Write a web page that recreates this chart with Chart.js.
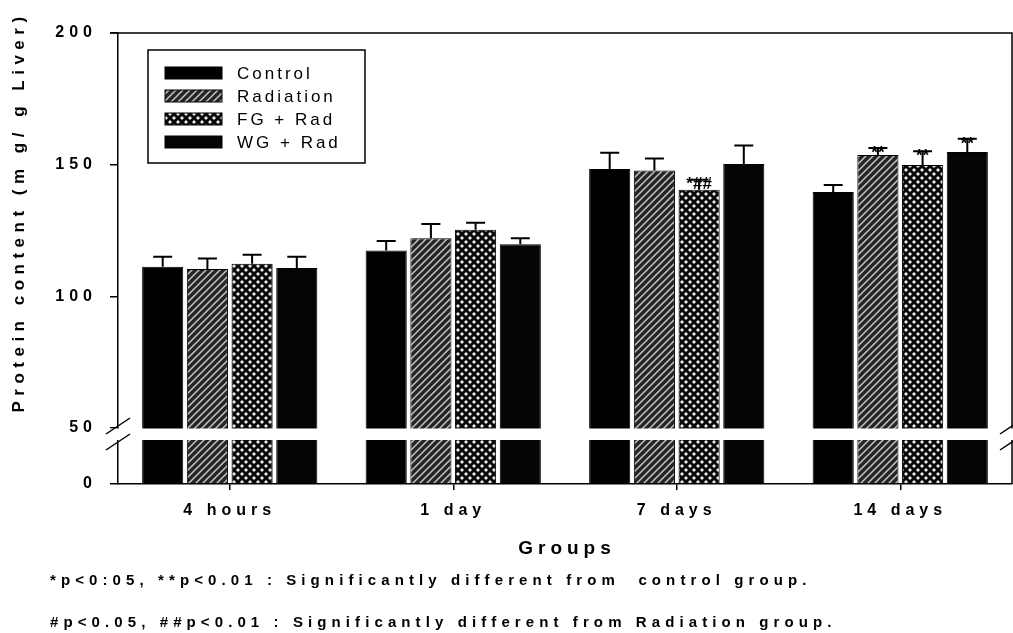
<!DOCTYPE html>
<html>
<head>
<meta charset="utf-8">
<script src="https://cdn.jsdelivr.net/npm/chart.js@4.4.1/dist/chart.umd.min.js"></script>
<style>
html, body { margin: 0; padding: 0; background: #fff; }
#wrap { width: 1013px; height: 633px; position: relative; }
</style>
</head>
<body>
<div id="wrap"><canvas id="proteinChart"></canvas></div>
<script>
// values (mg/g liver, mean and SE)
const categories = ["4 hours", "1 day", "7 days", "14 days"];
const seriesLabels = ["Control", "Radiation", "FG + Rad", "WG + Rad"];
const control = [111.2, 117.4, 148.4, 139.6];
const controlErr = [3.8, 3.6, 6.1, 2.7];
const radiation = [110.4, 122.1, 147.8, 153.7];
const radiationErr = [4.0, 5.4, 4.5, 2.6];
const fgRad = [112.4, 125.3, 140.5, 149.9];
const fgRadErr = [3.4, 2.6, 3.8, 5.2];
const wgRad = [110.8, 119.8, 150.3, 154.8];
const wgRadErr = [4.2, 2.3, 7.0, 5.0];
const radiationMarks = ["", "", "", "**"];
const fgRadMarks = ["", "", "*##", "**"];
const wgRadMarks = ["", "", "", "**"];
const yTicks = [50, 100, 150, 200];
const lowerTicks = [0];

const FONT = "'Liberation Sans', Arial, sans-serif";

function makePattern(kind) {
    const c = document.createElement("canvas");
    const g = c.getContext("2d");
    if (kind === "hatch") {
        const s = 7;
        c.width = s; c.height = s;
        g.fillStyle = "#262626";
        g.fillRect(0, 0, s, s);
        g.strokeStyle = "#c4c4c4";
        g.lineWidth = 1.5;
        g.beginPath();
        g.moveTo(-1, s + 1); g.lineTo(s + 1, -1);
        g.moveTo(-1, 1); g.lineTo(1, -1);
        g.moveTo(s - 1, s + 1); g.lineTo(s + 1, s - 1);
        g.stroke();
    } else if (kind === "cross") {
        const s = 8;
        c.width = s; c.height = s;
        g.fillStyle = "#0a0a0a";
        g.fillRect(0, 0, s, s);
        g.fillStyle = "#e8e8e8";
        [[2, 2], [6, 6]].forEach(p => {
            g.beginPath();
            g.moveTo(p[0], p[1] - 2); g.lineTo(p[0] + 2, p[1]);
            g.lineTo(p[0], p[1] + 2); g.lineTo(p[0] - 2, p[1]);
            g.closePath();
            g.fill();
        });
    }
    return g.createPattern(c, "repeat");
}

const fills = ["#000000", makePattern("hatch"), makePattern("cross"), "#050505"];
const values = [control, radiation, fgRad, wgRad];
const errors = [controlErr, radiationErr, fgRadErr, wgRadErr];
const marks = [null, radiationMarks, fgRadMarks, wgRadMarks];

const datasets = [];
seriesLabels.forEach((name, i) => {
    datasets.push({
        label: name, data: values[i], errors: errors[i], marks: marks[i],
        yAxisID: "y", stack: name, backgroundColor: fills[i],
        borderColor: "#000", borderWidth: 1, clip: 0,
        barPercentage: 0.92, categoryPercentage: 0.8
    });
});
// same values again on the short bottom segment below the axis break
seriesLabels.forEach((name, i) => {
    datasets.push({
        label: name, data: values[i], lower: true,
        yAxisID: "y0", stack: name, backgroundColor: fills[i],
        borderColor: "#000", borderWidth: 1, clip: 0,
        barPercentage: 0.92, categoryPercentage: 0.8
    });
});

const textPlugin = {
    id: "paperText",
    beforeDraw(chart) {
        const ctx = chart.ctx;
        ctx.save();
        ctx.fillStyle = "#fff";
        ctx.fillRect(0, 0, chart.width, chart.height);
        ctx.restore();
        ctx.letterSpacing = "5px";
    },
    afterDatasetsDraw(chart) {
        const ctx = chart.ctx;
        const yScale = chart.scales.y;
        ctx.save();
        ctx.strokeStyle = "#000";
        ctx.fillStyle = "#000";
        ctx.lineWidth = 2;
        chart.data.datasets.forEach((ds, i) => {
            if (!ds.errors) return;
            const meta = chart.getDatasetMeta(i);
            meta.data.forEach((bar, j) => {
                const top = yScale.getPixelForValue(ds.data[j] + ds.errors[j]);
                ctx.beginPath();
                ctx.moveTo(bar.x, bar.y);
                ctx.lineTo(bar.x, top);
                ctx.moveTo(bar.x - 9.5, top);
                ctx.lineTo(bar.x + 9.5, top);
                ctx.stroke();
                if (ds.marks && ds.marks[j]) {
                    ctx.font = "bold 17px " + FONT;
                    ctx.letterSpacing = "0px";
                    ctx.textAlign = "center";
                    ctx.textBaseline = "middle";
                    ctx.fillText(ds.marks[j], bar.x, top + 5);
                }
            });
        });
        ctx.restore();
    },
    afterDraw(chart) {
        const ctx = chart.ctx;
        const area = chart.chartArea;
        const up = chart.scales.y;
        ctx.save();
        ctx.strokeStyle = "#000";
        ctx.lineWidth = 1.5;
        // frame top and right
        ctx.beginPath();
        ctx.moveTo(area.left - 8, area.top);
        ctx.lineTo(area.right, area.top);
        ctx.lineTo(area.right, area.bottom);
        ctx.stroke();

        // axis break
        const b0 = up.bottom, b1 = up.bottom + 12;
        ctx.fillStyle = "#fff";
        ctx.fillRect(area.left - 14, b0 + 0.5, area.right - area.left + 20, b1 - b0 - 0.5);
        ctx.lineWidth = 1.5;
        [area.left, area.right].forEach(x => {
            ctx.beginPath();
            ctx.moveTo(x - 12, b0 + 6); ctx.lineTo(x + 12, b0 - 10);
            ctx.moveTo(x - 12, b1 + 10); ctx.lineTo(x + 12, b1 - 6);
            ctx.stroke();
        });

        // legend box
        ctx.lineWidth = 1.5;
        ctx.strokeRect(148, 50, 217, 113);
        ctx.font = "17px " + FONT;
        ctx.letterSpacing = "3px";
        ctx.textAlign = "left";
        ctx.textBaseline = "middle";
        chart.data.datasets.filter(d => !d.lower).forEach((ds, i) => {
            const cy = 73 + i * 23;
            ctx.fillStyle = ds.backgroundColor;
            ctx.fillRect(165, cy - 6, 57, 12);
            ctx.lineWidth = 1;
            ctx.strokeRect(165, cy - 6, 57, 12);
            ctx.fillStyle = "#000";
            ctx.fillText(ds.label, 237, cy + 1);
        });

        // axis titles and notes
        ctx.fillStyle = "#000";
        ctx.font = "bold 17px " + FONT;
        ctx.letterSpacing = "5.5px";
        ctx.textAlign = "center";
        ctx.save();
        ctx.translate(19, 212);
        ctx.rotate(-Math.PI / 2);
        ctx.fillText("Protein content (m g/ g Liver)", 0, 0);
        ctx.restore();

        ctx.font = "bold 19px " + FONT;
        ctx.letterSpacing = "5px";
        ctx.fillText("Groups", 567, 549);

        ctx.font = "bold 15px " + FONT;
        ctx.letterSpacing = "5.1px";
        ctx.textAlign = "left";
        ctx.fillText("*p<0:05, **p<0.01 : Significantly different from  control group.", 50, 581);
        ctx.fillText("#p<0.05, ##p<0.01 : Significantly different from Radiation group.", 50, 623);
        ctx.restore();
    }
};

const tickFont = { family: FONT, size: 16, weight: "bold" };

new Chart(document.getElementById("proteinChart"), {
    type: "bar",
    data: { labels: categories, datasets: datasets },
    options: {
        responsive: true,
        maintainAspectRatio: false,
        animation: false,
        layout: { padding: { top: 33, right: 1, left: 0, bottom: 0 } },
        plugins: { legend: { display: false }, tooltip: { enabled: false } },
        scales: {
            x: {
                grid: { display: true, drawOnChartArea: false, offset: false, color: "#000", tickLength: 6, lineWidth: 1.5 },
                border: { display: true, color: "#000", width: 1.5 },
                ticks: { color: "#000", font: { family: FONT, size: 16, weight: "bold" }, padding: 11, maxRotation: 0 },
                afterFit(scale) { scale.height = 149; }
            },
            y0: {
                type: "linear", position: "left", stack: "left", stackWeight: 56,
                min: 0, max: 10, stacked: false,
                grid: { display: true, drawOnChartArea: false, color: "#000", tickLength: 8, lineWidth: 1.5 },
                border: { display: true, color: "#000", width: 1.5 },
                ticks: { color: "#000", font: tickFont, padding: 13 },
                afterBuildTicks(scale) { scale.ticks = lowerTicks.map(v => ({ value: v })); },
                afterFit(scale) { scale.width = 118; }
            },
            y: {
                type: "linear", position: "left", stack: "left", stackWeight: 395,
                min: 50, max: 200, stacked: false,
                grid: { display: true, drawOnChartArea: false, color: "#000", tickLength: 8, lineWidth: 1.5 },
                border: { display: true, color: "#000", width: 1.5 },
                ticks: { color: "#000", font: tickFont, padding: 13 },
                afterBuildTicks(scale) { scale.ticks = yTicks.map(v => ({ value: v })); },
                afterFit(scale) { scale.width = 118; }
            }
        }
    },
    plugins: [textPlugin]
});
</script>
</body>
</html>
